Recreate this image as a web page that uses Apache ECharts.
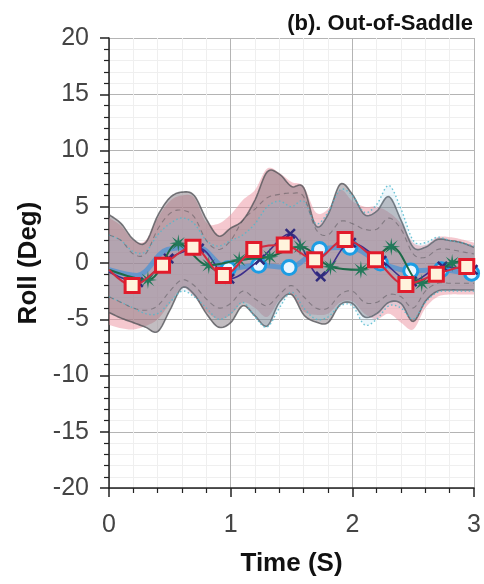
<!DOCTYPE html>
<html>
<head>
<meta charset="utf-8">
<script src="https://cdn.jsdelivr.net/npm/echarts@6/dist/echarts.min.js"></script>
<style>
  html, body { margin: 0; padding: 0; background: #fff; }
  #chart { width: 484px; height: 584px; }
</style>
</head>
<body>
<div id="chart"></div>
<script>
// ---- axis ticks ----
const xTicks = [0, 1, 2, 3];
const yTicks = [-20, -15, -10, -5, 0, 5, 10, 15, 20];

// ---- variability bands, sampled every 0.1 s ----
const bandTime = [0, 0.1, 0.2, 0.3, 0.4, 0.5, 0.6, 0.7, 0.8, 0.9, 1.0, 1.1, 1.2, 1.3, 1.4, 1.5,
                  1.6, 1.7, 1.8, 1.9, 2.0, 2.1, 2.2, 2.3, 2.4, 2.5, 2.6, 2.7, 2.8, 2.9, 3.0];
const pinkUpper = [4.0, 3.3, 2.0, 2.0, 4.0, 5.5, 6.0, 5.8, 3.6, 3.5, 4.3, 5.6, 6.5, 8.4, 8.0, 7.2,
                   6.8, 4.5, 4.8, 6.5, 5.5, 5.0, 5.0, 4.5, 3.5, 1.8, 1.6, 2.3, 2.3, 2.1, 1.8];
const pinkLower = [-5.5, -5.8, -5.9, -5.6, -5.0, -3.6, -2.2, -3.0, -4.3, -5.0, -4.6, -3.5, -4.0, -4.8, -3.3, -2.8,
                   -4.3, -4.6, -4.5, -3.5, -3.4, -4.5, -5.0, -4.5, -5.3, -5.9, -4.0, -3.0, -2.8, -2.8, -2.8];
const greyUpper = [4.3, 3.5, 2.1, 1.8, 4.2, 5.8, 6.3, 6.0, 3.9, 2.4, 3.1, 3.8, 5.6, 8.1, 7.9, 6.8,
                   6.7, 3.3, 4.3, 7.0, 6.1, 4.3, 4.6, 5.9, 3.8, 1.4, 1.4, 2.1, 2.0, 1.8, 1.4];
const greyLower = [-4.4, -4.9, -5.3, -5.7, -6.1, -4.2, -2.2, -2.8, -4.5, -5.7, -5.3, -3.8, -4.7, -5.6, -3.5, -2.8,
                   -4.6, -5.25, -5.3, -3.7, -3.6, -4.8, -4.5, -3.5, -3.6, -5.2, -3.4, -2.5, -2.4, -2.4, -2.4];
const blueUpper = [2.5, 2.0, 1.0, 1.0, 2.5, 3.5, 4.0, 3.5, 2.0, 1.5, 2.0, 2.5, 3.5, 5.0, 5.5, 5.0,
                   5.5, 3.5, 4.5, 6.5, 6.0, 4.5, 5.2, 6.9, 4.8, 2.0, 1.8, 2.3, 2.0, 1.8, 1.5];
const blueLower = [-3.0, -3.5, -4.0, -4.5, -4.5, -3.5, -2.5, -3.0, -4.0, -5.0, -4.5, -3.5, -4.8, -5.7, -4.0, -2.6,
                   -4.0, -5.0, -4.8, -3.8, -3.8, -5.5, -5.0, -3.8, -4.0, -5.0, -3.5, -2.6, -2.5, -2.5, -2.5];
const greenUpper = [2.5, 2.0, 0.8, 0.8, 3.0, 4.4, 4.7, 4.1, 2.0, 1.2, 2.0, 3.8, 4.8, 5.8, 6.1, 6.2,
                    5.9, 3.0, 2.5, 3.7, 3.5, 3.0, 3.0, 4.0, 3.0, 0.8, 0.5, 1.2, 1.2, 1.0, 0.8];
const greenLower = [-3.0, -3.5, -4.0, -4.2, -3.8, -2.5, -1.5, -2.0, -3.2, -4.0, -3.6, -2.5, -3.2, -3.8, -2.8, -2.0,
                    -3.0, -4.0, -4.0, -2.8, -2.5, -3.5, -3.5, -2.8, -3.0, -4.0, -2.5, -1.8, -1.8, -1.8, -1.8];

// ---- mean roll curves (first / last entries are the curve ends, without a marker) ----
const redTime = [0, 0.19, 0.44, 0.69, 0.94, 1.19, 1.44, 1.69, 1.94, 2.19, 2.44, 2.69, 2.94, 3.0];
const redRoll = [-0.6, -2.0, -0.2, 1.4, -1.1, 1.2, 1.6, 0.3, 2.1, 0.3, -1.9, -1.0, -0.3, -0.3];
const blueTime = [0, 0.23, 0.48, 0.73, 0.98, 1.23, 1.48, 1.73, 1.98, 2.23, 2.48, 2.73, 2.98, 3.0];
const blueRoll = [-0.6, -1.1, 1.2, 1.4, -0.5, -0.2, -0.4, 1.2, 1.4, 0.0, -0.7, -0.6, -0.9, -0.9];
const navyTime = [0, 0.24, 0.49, 0.74, 0.99, 1.24, 1.49, 1.74, 1.99, 2.24, 2.49, 2.74, 2.99, 3.0];
const navyRoll = [-0.8, -1.7, 0.4, 1.3, -1.4, 0.3, 2.6, -1.2, 1.8, 0.2, -1.65, -0.3, -0.6, -0.6];
const greenTime = [0, 0.32, 0.57, 0.82, 1.07, 1.32, 1.57, 1.82, 2.07, 2.32, 2.57, 2.82, 3.0];
const greenRoll = [-0.6, -1.5, 1.75, -0.2, 0.27, 0.56, 1.45, -0.33, -0.6, 1.45, -1.8, 0.0, 0.2];

const FONT = '"Liberation Sans", Arial, Helvetica, sans-serif';

// Catmull-Rom densification of pixel points for smooth band edges
function spline(pts, steps) {
  const out = [];
  for (let i = 0; i < pts.length - 1; i++) {
    const p0 = pts[Math.max(i - 1, 0)], p1 = pts[i], p2 = pts[i + 1], p3 = pts[Math.min(i + 2, pts.length - 1)];
    for (let s = 0; s < steps; s++) {
      const u = s / steps, u2 = u * u, u3 = u2 * u;
      const f = k => 0.5 * (2 * p1[k] + (-p0[k] + p2[k]) * u +
        (2 * p0[k] - 5 * p1[k] + 4 * p2[k] - p3[k]) * u2 +
        (-p0[k] + 3 * p1[k] - 3 * p2[k] + p3[k]) * u3);
      out.push([f(0), f(1)]);
    }
  }
  out.push(pts[pts.length - 1]);
  return out;
}

function bandSeries(name, upper, lower, fill, edge, z) {
  return {
    type: 'custom',
    name: name,
    z: z,
    silent: true,
    data: [[0, 0]],
    renderItem: function (params, api) {
      const up = spline(bandTime.map((t, i) => api.coord([t, upper[i]])), 8);
      const lo = spline(bandTime.map((t, i) => api.coord([t, lower[i]])), 8);
      const children = [];
      if (fill) {
        children.push({
          type: 'polygon',
          shape: { points: up.concat(lo.slice().reverse()) },
          style: { fill: fill, stroke: null }
        });
      }
      if (edge) {
        [up, lo].forEach(p => children.push({
          type: 'polyline',
          shape: { points: p },
          style: { fill: null, stroke: edge.color, lineWidth: edge.width, lineDash: edge.dash || null }
        }));
      }
      return { type: 'group', children: children };
    }
  };
}

// 8-pointed star marker
function starPath() {
  const pts = [];
  for (let i = 0; i < 16; i++) {
    const a = Math.PI * i / 8 - Math.PI / 2;
    const r = i % 2 === 0 ? 10 : 3.0;
    pts.push((10 + r * Math.cos(a)).toFixed(2) + ',' + (10 + r * Math.sin(a)).toFixed(2));
  }
  return 'path://M' + pts.join(' L') + ' Z';
}
const crossPath = 'path://M0,1.6 L1.6,0 L5,3.4 L8.4,0 L10,1.6 L6.6,5 L10,8.4 L8.4,10 L5,6.6 L1.6,10 L0,8.4 L3.4,5 Z';

function meanSeries(times, values, symbol, size, itemStyle, lineStyle, z, markerFrom) {
  const last = times.length - 1;
  return {
    type: 'line',
    z: z,
    smooth: 0.35,
    showAllSymbol: true,
    silent: true,
    symbolSize: size,
    lineStyle: lineStyle,
    itemStyle: itemStyle,
    data: times.map((t, i) => ({
      value: [t, values[i]],
      symbol: (i === 0 || i === last || t < markerFrom) ? 'none' : symbol
    }))
  };
}

const chart = echarts.init(document.getElementById('chart'), null, { renderer: 'canvas' });

const axisCommon = {
  axisLine: { show: true, onZero: false, lineStyle: { color: '#222', width: 1.5 } },
  axisTick: { show: true, inside: false, length: 9, lineStyle: { color: '#222', width: 1.5 } },
  minorTick: { show: true, splitNumber: 5, length: 5, lineStyle: { color: '#222', width: 1.2 } },
  splitLine: { show: true, lineStyle: { color: '#b4b4b4', width: 1 } },
  minorSplitLine: { show: true, lineStyle: { color: '#efefef', width: 1 } }
};

chart.setOption({
  backgroundColor: '#ffffff',
  animation: false,
  title: {
    text: '(b). Out-of-Saddle',
    right: 6, top: 8,
    textStyle: { fontFamily: FONT, fontSize: 22, fontWeight: 'bold', color: '#111' }
  },
  grid: { left: 109, right: 3, top: 38, bottom: 96, containLabel: false },
  xAxis: Object.assign({
    type: 'value',
    min: xTicks[0], max: xTicks[xTicks.length - 1], interval: xTicks[1] - xTicks[0],
    axisLabel: { fontFamily: FONT, fontSize: 25, color: '#444', margin: 25 },
    name: 'Time (S)', nameLocation: 'middle', nameGap: 63,
    nameTextStyle: { fontFamily: FONT, fontSize: 26, fontWeight: 'bold', color: '#111' }
  }, axisCommon),
  yAxis: Object.assign({
    type: 'value',
    min: yTicks[0], max: yTicks[yTicks.length - 1], interval: yTicks[1] - yTicks[0],
    axisLabel: { fontFamily: FONT, fontSize: 25, color: '#444', margin: 20 },
    name: 'Roll (Deg)', nameLocation: 'middle', nameGap: 66, nameRotate: 90,
    nameTextStyle: { fontFamily: FONT, fontSize: 26, fontWeight: 'bold', color: '#111' }
  }, axisCommon),
  series: [
    bandSeries('pink band', pinkUpper, pinkLower, 'rgba(236,145,160,0.5)', null, 2),
    bandSeries('grey band', greyUpper, greyLower, 'rgba(120,108,118,0.45)',
      { color: 'rgba(85,85,90,0.8)', width: 1.6 }, 3),
    bandSeries('blue band', blueUpper, blueLower, 'rgba(130,195,232,0.14)',
      { color: 'rgba(80,185,205,0.85)', width: 1.4, dash: [1.5, 2.5] }, 4),
    bandSeries('green band', greenUpper, greenLower, null,
      { color: 'rgba(70,70,75,0.45)', width: 1.1, dash: [5, 4] }, 5),

    meanSeries(blueTime, blueRoll, 'circle', 14,
      { color: '#eaf6ff', borderColor: '#1c9de4', borderWidth: 3 },
      { color: 'rgba(70,145,215,0.7)', width: 5 }, 10, 0.9),
    meanSeries(navyTime, navyRoll, crossPath, 11,
      { color: '#2f2a7c', borderWidth: 0 },
      { color: '#3d2f8c', width: 1.6 }, 11, 0.1),
    meanSeries(greenTime, greenRoll, starPath(), 18,
      { color: '#22795a', borderWidth: 0 },
      { color: '#1d6a48', width: 2 }, 12, 0.1),
    meanSeries(redTime, redRoll, 'rect', 14,
      { color: '#fff3dc', borderColor: '#e11b2b', borderWidth: 3 },
      { color: '#cf2c40', width: 2 }, 13, 0.1)
  ]
});
</script>
</body>
</html>
